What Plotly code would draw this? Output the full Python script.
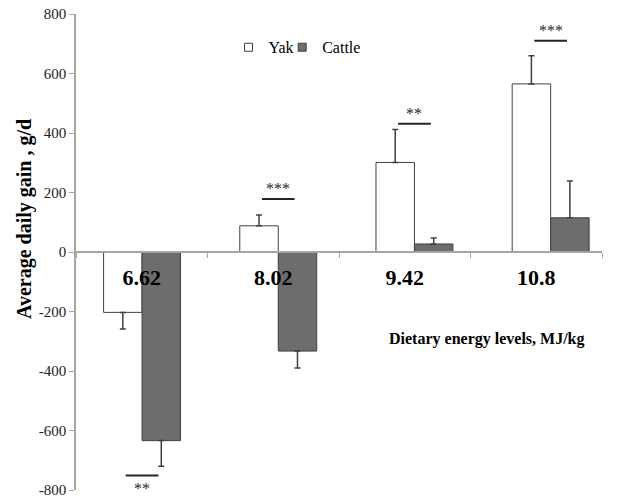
import plotly.graph_objects as go

categories = ["6.62", "8.02", "9.42", "10.8"]
yak_adg = [-203, 88, 301, 565]
yak_err = [56, 36, 111, 95]
cattle_adg = [-634, -333, 27, 115]
cattle_err = [86, 57, 20, 124]
sig_labels = ["**", "***", "**", "***"]
sig_line_y = [-751, 178, 431, 710]
y_ticks = [-800, -600, -400, -200, 0, 200, 400, 600, 800]
y_tick_text = ["-800", "-600", "-400", "-200", "0", "200", "400", "600", "800"]

FONT = "Liberation Serif, Times New Roman, Tinos, serif"
EDGE = "#404040"
AXIS = "#a6a6a6"
YAK_FILL = "white"
CATTLE_FILL = "#6d6d6d"


def one_sided(vals, errs):
    plus = [e if v >= 0 else 0 for v, e in zip(vals, errs)]
    minus = [e if v < 0 else 0 for v, e in zip(vals, errs)]
    return plus, minus


fig = go.Figure()
for name, vals, errs, color, leg in [
    ("Yak", yak_adg, yak_err, YAK_FILL, "legend"),
    ("Cattle", cattle_adg, cattle_err, CATTLE_FILL, "legend2"),
]:
    plus, minus = one_sided(vals, errs)
    fig.add_trace(go.Bar(
        name=name, x=categories, y=vals, showlegend=False,
        marker=dict(color=color, line=dict(color=EDGE, width=1)),
        error_y=dict(type="data", symmetric=False, array=plus, arrayminus=minus,
                     color=EDGE, thickness=1.5, width=3),
        xaxis="x", yaxis="y",
    ))
    # legend entry with a small square key
    fig.add_trace(go.Scatter(
        name=name, x=[categories[0]], y=[None], mode="markers", legend=leg,
        marker=dict(symbol="square", size=8, color=color, line=dict(color=EDGE, width=1)),
        hoverinfo="skip", xaxis="x", yaxis="y",
    ))

# invisible trace carrying the visible category axis
fig.add_trace(go.Scatter(x=categories, y=[0] * len(categories), mode="markers",
                         marker=dict(opacity=0), showlegend=False, hoverinfo="skip",
                         xaxis="x2", yaxis="y"))

for i, (lab, ly) in enumerate(zip(sig_labels, sig_line_y)):
    fig.add_shape(type="line", xref="x", yref="y", x0=i - 0.12, x1=i + 0.12,
                  y0=ly, y1=ly, line=dict(color="#262626", width=2))
    above = ly > 0
    fig.add_annotation(x=i, y=ly, xref="x", yref="y", text=lab, showarrow=False,
                       yanchor="bottom" if above else "top",
                       yshift=0 if above else -3,
                       font=dict(family=FONT, size=16, color="#2a2a2a"))

fig.add_annotation(xref="paper", yref="paper", x=0.781, y=0.317,
                   text="<b>Dietary energy levels, MJ/kg</b>", showarrow=False,
                   xanchor="center", yanchor="middle",
                   font=dict(family=FONT, size=16, color="black"))
fig.add_annotation(xref="paper", yref="paper", x=-0.099, y=0.569,
                   text="<b>Average daily gain , g/d</b>", showarrow=False,
                   textangle=-90, xanchor="center", yanchor="middle",
                   font=dict(family=FONT, size=20, color="black"))

legend_style = dict(orientation="h", xanchor="left", yanchor="middle",
                    font=dict(family=FONT, size=16, color="black"),
                    bgcolor="rgba(0,0,0,0)", itemwidth=30)

fig.update_layout(
    width=619, height=497,
    margin=dict(l=76, r=17, t=14, b=7, autoexpand=False),
    paper_bgcolor="white", plot_bgcolor="white",
    barmode="group", bargap=0.435, bargroupgap=0,
    font=dict(family=FONT, color="black"),
    showlegend=True,
    legend=dict(x=0.29, y=0.93, **legend_style),
    legend2=dict(x=0.392, y=0.93, **legend_style),
    xaxis=dict(type="category", range=[-0.485, 3.377], visible=False, automargin=False),
    xaxis2=dict(type="category", range=[-0.5, 3.5], overlaying="x", anchor="free",
                position=0.5, showline=True, linecolor=AXIS, linewidth=1.5,
                ticks="outside", tickson="boundaries", ticklen=5, tickcolor=AXIS,
                showgrid=False, zeroline=False, ticklabelstandoff=6, automargin=False,
                tickfont=dict(family=FONT, size=22, color="black", weight="bold")),
    yaxis=dict(range=[-800, 800], tickvals=y_ticks, ticktext=y_tick_text,
               showgrid=False, zeroline=False, automargin=False,
               showline=True, linecolor=AXIS, linewidth=1.5,
               ticks="outside", ticklen=5, tickcolor=AXIS,
               ticklabelstandoff=0, ticklabeloverflow="allow",
               tickfont=dict(family=FONT, size=15, color="#222222")),
)

fig.write_html("out.html", config={"displayModeBar": False},
               post_script="document.body.style.margin='0';")
